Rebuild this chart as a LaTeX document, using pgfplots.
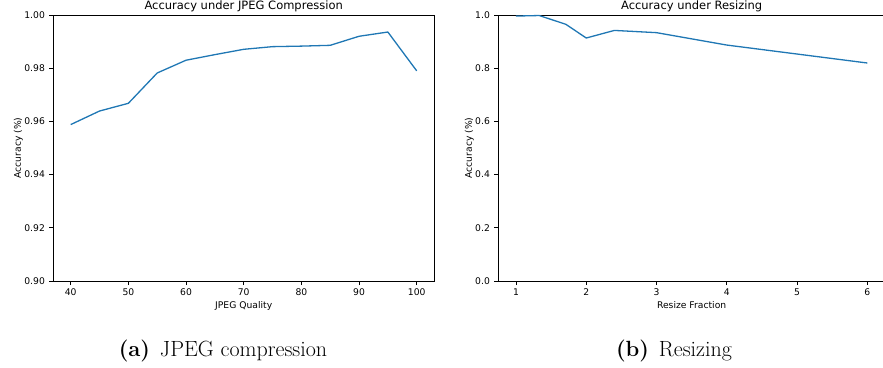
\documentclass[border=0pt]{standalone}
\usepackage{fontspec}
\usepackage{pgfplots}
\pgfplotsset{compat=1.18}
\newfontfamily\djv{DejaVu Sans}
\definecolor{mplblue}{HTML}{1F77B4}
\pgfplotsset{
  mystyle/.style={
    scale only axis,
    anchor=south west,
    height=266pt,
    axis line style={black, line width=0.7pt},
    tick align=outside,
    tick pos=left,
    major tick length=4pt,
    every tick/.style={black, line width=0.7pt},
    /pgf/number format/assume math mode=true,
    ticklabel style={font=\fontsize{9.2}{10}\djv},
    xticklabel style={yshift=-0.5pt},
    yticklabel style={xshift=-1pt},
    every axis title/.style={at={(axis description cs:0.5,1)}, anchor=base, yshift=5.5pt, font=\fontsize{11.5}{13}\djv},
    every axis x label/.style={at={(axis description cs:0.5,0)}, anchor=base, yshift=-27pt, font=\fontsize{9.2}{10}\djv},
    clip=false,
  }
}
\begin{document}
\begin{tikzpicture}
\useasboundingbox (0,0) rectangle (883pt,367pt);
\begin{axis}[mystyle,
  at={(53.4pt,86pt)}, width=380.6pt,
  xmin=37, xmax=103, ymin=0.90, ymax=1.00,
  xtick={40,50,60,70,80,90,100},
  ytick={0.90,0.92,0.94,0.96,0.98,1.00},
  yticklabel style={/pgf/number format/.cd, fixed, fixed zerofill, precision=2},
  title={Accuracy under JPEG Compression},
  xlabel={JPEG Quality},
  ylabel={Accuracy (\%)},
  every axis y label/.style={at={(axis description cs:-0.0854,0.5)}, rotate=90, anchor=base, font=\fontsize{9.2}{10}\djv},
]
\addplot[mplblue, line width=1.3pt, line join=round] coordinates {
(40,0.9588) (45,0.9639) (50,0.9668) (55,0.9782) (60,0.9830) (65,0.9851)
(70,0.9871) (75,0.9881) (80,0.9883) (85,0.9886) (90,0.9920) (95,0.9936) (100,0.9790)
};
\end{axis}
\begin{axis}[mystyle,
  at={(498.4pt,86pt)}, width=386.5pt,
  xmin=0.75, xmax=6.25, ymin=0, ymax=1,
  xtick={1,2,3,4,5,6},
  ytick={0,0.2,0.4,0.6,0.8,1.0},
  yticklabel style={/pgf/number format/.cd, fixed, fixed zerofill, precision=1},
  title={Accuracy under Resizing},
  xlabel={Resize Fraction},
  ylabel={Accuracy (\%)},
  every axis y label/.style={at={(axis description cs:-0.0686,0.5)}, rotate=90, anchor=base, font=\fontsize{9.2}{10}\djv},
]
\addplot[mplblue, line width=1.3pt, line join=round] coordinates {
(1,0.996) (1.33,0.998) (1.71,0.965) (2,0.9135) (2.4,0.942) (3,0.9336) (4,0.887) (6,0.8195)
};
\end{axis}
\node[anchor=base, font=\fontsize{22}{24}\selectfont] at (223pt,11pt) {\textbf{(a)}\hspace{0.45em}JPEG compression};
\node[anchor=base, font=\fontsize{22}{24}\selectfont] at (674pt,11pt) {\textbf{(b)}\hspace{0.45em}Resizing};
\end{tikzpicture}
\end{document}
